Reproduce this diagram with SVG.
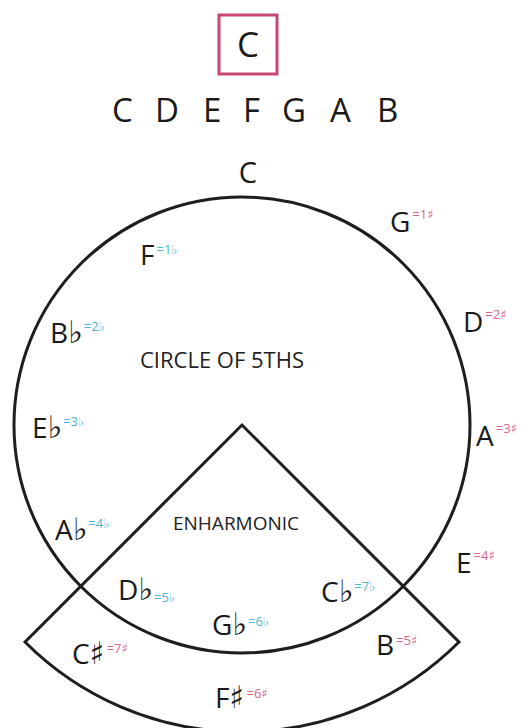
<svg xmlns="http://www.w3.org/2000/svg" width="528" height="728" viewBox="0 0 528 728">
<style>
text{font-family:"Open Sans","DejaVu Sans",sans-serif;fill:#1a1a1a}
.n{font-size:28px}
.a{font-family:"DejaVu Sans",sans-serif;font-size:31px}
.f{font-size:13px;fill:#4db6d0}
.s{font-size:13px;fill:#d9668f}
.lb{fill:#222}
.ln{fill:none;stroke:#1e1e1e;stroke-width:3}
</style>
<rect width="528" height="728" fill="#fff"/>
<g id="key">
<rect x="219" y="15" width="58" height="59" fill="none" stroke="#c5486f" stroke-width="3"/>
<text x="248" y="57" font-size="35" text-anchor="middle">C</text>
</g>
<g id="scale">
<text font-size="33" y="122"><tspan x="112">C</tspan><tspan x="155">D</tspan><tspan x="203">E</tspan><tspan x="243">F</tspan><tspan x="282">G</tspan><tspan x="330">A</tspan><tspan x="377">B</tspan></text>
</g>
<g id="connectors">
<circle class="ln" cx="242" cy="425" r="228"/>
<path class="ln" d="M25 642 L242 425 L459 642 A307 307 0 0 1 25 642 Z" stroke-linejoin="miter"/>
</g>
<g id="labels">
<text x="248" y="183" font-size="29" text-anchor="middle">C</text>
<text class="lb" x="140" y="368" font-size="22">CIRCLE OF 5THS</text>
<text class="lb" x="173" y="530" font-size="19">ENHARMONIC</text>
</g>
<g id="sharps">
<g id="n-G"><text class="n" x="390" y="232">G<tspan class="s" dx="2" dy="-13">=1♯</tspan></text></g>
<g id="n-D"><text class="n" x="463" y="332">D<tspan class="s" dx="2" dy="-13">=2♯</tspan></text></g>
<g id="n-A"><text class="n" x="476" y="446">A<tspan class="s" dx="2" dy="-13">=3♯</tspan></text></g>
<g id="n-E"><text class="n" x="456" y="573">E<tspan class="s" dx="2" dy="-13">=4♯</tspan></text></g>
<g id="n-B"><text class="n" x="376" y="655">B<tspan class="s" dx="2" dy="-10">=5♯</tspan></text></g>
<g id="n-Fs"><text class="n" x="215" y="708">F<tspan class="a">♯</tspan><tspan class="s" dx="2" dy="-10">=6♯</tspan></text></g>
<g id="n-Cs"><text class="n" x="72" y="664">C<tspan class="a">♯</tspan><tspan class="s" dx="2" dy="-11">=7♯</tspan></text></g>
</g>
<g id="flats">
<g id="n-F"><text class="n" x="140" y="265">F<tspan class="f" dx="2" dy="-11">=1♭</tspan></text></g>
<g id="n-Bb"><text class="n" x="50" y="343">B<tspan class="a">♭</tspan><tspan class="f" dx="1" dy="-12">=2♭</tspan></text></g>
<g id="n-Eb"><text class="n" x="32" y="438">E<tspan class="a">♭</tspan><tspan class="f" dx="1" dy="-12">=3♭</tspan></text></g>
<g id="n-Ab"><text class="n" x="55" y="540">A<tspan class="a">♭</tspan><tspan class="f" dx="1" dy="-12">=4♭</tspan></text></g>
<g id="n-Db"><text class="n" x="118" y="600">D<tspan class="a">♭</tspan><tspan class="f" dx="1" dy="2">=5♭</tspan></text></g>
<g id="n-Gb"><text class="n" x="212" y="635">G<tspan class="a">♭</tspan><tspan class="f" dx="1" dy="-9">=6♭</tspan></text></g>
<g id="n-Cb"><text class="n" x="321" y="602">C<tspan class="a">♭</tspan><tspan class="f" dx="1" dy="-11">=7♭</tspan></text></g>
</g>
</svg>
